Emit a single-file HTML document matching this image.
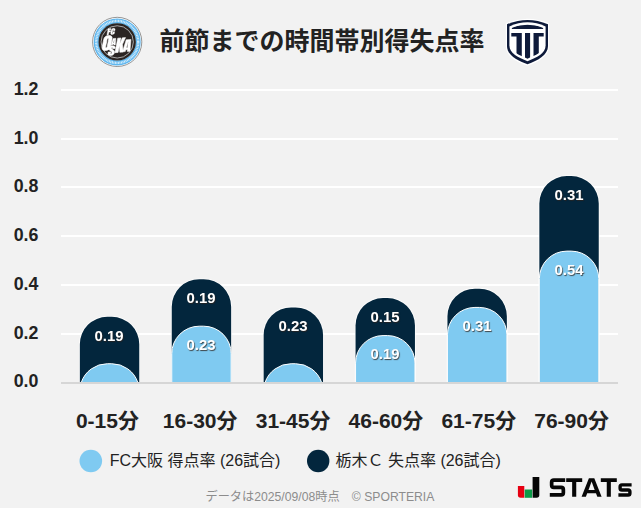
<!DOCTYPE html>
<html lang="ja"><head><meta charset="utf-8"><title>前節までの時間帯別得失点率</title>
<style>
html,body{margin:0;padding:0;background:#f2f2f2;}
body{width:641px;height:508px;position:relative;overflow:hidden;font-family:"Liberation Sans","Noto Sans CJK JP",sans-serif;}
svg.c{position:absolute;left:0;top:0;display:block}
.t{position:absolute;white-space:nowrap;font-family:"Liberation Sans","Noto Sans CJK JP",sans-serif;}
</style></head><body>
<svg class="c" width="641" height="508" viewBox="0 0 641 508">
<rect width="641" height="508" fill="#f2f2f2"/>
<rect x="61" y="333.0" width="557" height="2" fill="#ffffff"/>
<rect x="61" y="284.0" width="557" height="2" fill="#ffffff"/>
<rect x="61" y="235.0" width="557" height="2" fill="#ffffff"/>
<rect x="61" y="186.0" width="557" height="2" fill="#ffffff"/>
<rect x="61" y="138.0" width="557" height="2" fill="#ffffff"/>
<rect x="61" y="89.0" width="557" height="2" fill="#ffffff"/>
<path d="M79.85 382.50V344.31A27.50 27.50 0 0 1 107.35 316.81H111.75A27.50 27.50 0 0 1 139.25 344.31V382.50" fill="none" stroke="#ffffff" stroke-opacity="0.8" stroke-width="1.6"/>
<path d="M79.85 382.50V344.31A27.50 27.50 0 0 1 107.35 316.81H111.75A27.50 27.50 0 0 1 139.25 344.31V382.50Z" fill="#03263d"/>
<path d="M81.27 382.50A27.50 27.50 0 0 1 107.35 363.73H111.75A27.50 27.50 0 0 1 137.83 382.50Z" fill="#7fcaf1"/>
<path d="M81.27 382.50A27.50 27.50 0 0 1 107.35 363.73H111.75A27.50 27.50 0 0 1 137.83 382.50" fill="none" stroke="#ffffff" stroke-width="1"/>
<path d="M171.75 382.50V306.77A27.50 27.50 0 0 1 199.25 279.27H203.65A27.50 27.50 0 0 1 231.15 306.77V382.50" fill="none" stroke="#ffffff" stroke-opacity="0.8" stroke-width="1.6"/>
<path d="M171.75 382.50V306.77A27.50 27.50 0 0 1 199.25 279.27H203.65A27.50 27.50 0 0 1 231.15 306.77V382.50Z" fill="#03263d"/>
<path d="M171.75 382.50V353.69A27.50 27.50 0 0 1 199.25 326.19H203.65A27.50 27.50 0 0 1 231.15 353.69V382.50Z" fill="#7fcaf1"/>
<path d="M171.75 382.50V353.69A27.50 27.50 0 0 1 199.25 326.19H203.65A27.50 27.50 0 0 1 231.15 353.69V382.50" fill="none" stroke="#ffffff" stroke-width="1"/>
<path d="M263.65 382.50V334.92A27.50 27.50 0 0 1 291.15 307.42H295.55A27.50 27.50 0 0 1 323.05 334.92V382.50" fill="none" stroke="#ffffff" stroke-opacity="0.8" stroke-width="1.6"/>
<path d="M263.65 382.50V334.92A27.50 27.50 0 0 1 291.15 307.42H295.55A27.50 27.50 0 0 1 323.05 334.92V382.50Z" fill="#03263d"/>
<path d="M265.07 382.50A27.50 27.50 0 0 1 291.15 363.73H295.55A27.50 27.50 0 0 1 321.63 382.50Z" fill="#7fcaf1"/>
<path d="M265.07 382.50A27.50 27.50 0 0 1 291.15 363.73H295.55A27.50 27.50 0 0 1 321.63 382.50" fill="none" stroke="#ffffff" stroke-width="1"/>
<path d="M355.55 382.50V325.54A27.50 27.50 0 0 1 383.05 298.04H387.45A27.50 27.50 0 0 1 414.95 325.54V382.50" fill="none" stroke="#ffffff" stroke-opacity="0.8" stroke-width="1.6"/>
<path d="M355.55 382.50V325.54A27.50 27.50 0 0 1 383.05 298.04H387.45A27.50 27.50 0 0 1 414.95 325.54V382.50Z" fill="#03263d"/>
<path d="M355.55 382.50V363.08A27.50 27.50 0 0 1 383.05 335.58H387.45A27.50 27.50 0 0 1 414.95 363.08V382.50Z" fill="#7fcaf1"/>
<path d="M355.55 382.50V363.08A27.50 27.50 0 0 1 383.05 335.58H387.45A27.50 27.50 0 0 1 414.95 363.08V382.50" fill="none" stroke="#ffffff" stroke-width="1"/>
<path d="M447.45 382.50V316.15A27.50 27.50 0 0 1 474.95 288.65H479.35A27.50 27.50 0 0 1 506.85 316.15V382.50" fill="none" stroke="#ffffff" stroke-opacity="0.8" stroke-width="1.6"/>
<path d="M447.45 382.50V316.15A27.50 27.50 0 0 1 474.95 288.65H479.35A27.50 27.50 0 0 1 506.85 316.15V382.50Z" fill="#03263d"/>
<path d="M447.45 382.50V334.92A27.50 27.50 0 0 1 474.95 307.42H479.35A27.50 27.50 0 0 1 506.85 334.92V382.50Z" fill="#7fcaf1"/>
<path d="M447.45 382.50V334.92A27.50 27.50 0 0 1 474.95 307.42H479.35A27.50 27.50 0 0 1 506.85 334.92V382.50" fill="none" stroke="#ffffff" stroke-width="1"/>
<path d="M539.35 382.50V203.54A27.50 27.50 0 0 1 566.85 176.04H571.25A27.50 27.50 0 0 1 598.75 203.54V382.50" fill="none" stroke="#ffffff" stroke-opacity="0.8" stroke-width="1.6"/>
<path d="M539.35 382.50V203.54A27.50 27.50 0 0 1 566.85 176.04H571.25A27.50 27.50 0 0 1 598.75 203.54V382.50Z" fill="#03263d"/>
<path d="M539.35 382.50V278.62A27.50 27.50 0 0 1 566.85 251.12H571.25A27.50 27.50 0 0 1 598.75 278.62V382.50Z" fill="#7fcaf1"/>
<path d="M539.35 382.50V278.62A27.50 27.50 0 0 1 566.85 251.12H571.25A27.50 27.50 0 0 1 598.75 278.62V382.50" fill="none" stroke="#ffffff" stroke-width="1"/>
<rect x="61" y="382" width="557" height="2" fill="#d6d6d6"/>
<circle cx="90.8" cy="461" r="11.3" fill="#7fcaf1"/>
<circle cx="318.2" cy="461" r="11.2" fill="#03263d"/>
<g id="osaka">
<circle cx="117.2" cy="41.9" r="24.6" fill="#ffffff" stroke="#7a7a7a" stroke-width="0.8"/>
<circle cx="117.2" cy="41.9" r="21.0" fill="none" stroke="#5fb7ef" stroke-width="5.0"/>
<circle cx="117.2" cy="41.9" r="18.7" fill="#2b2523"/>
<circle cx="117.2" cy="41.9" r="16.15" fill="none" stroke="#c9c9c9" stroke-width="0.8"/>
<circle cx="117.2" cy="41.9" r="21.0" fill="none" stroke="#ffffff" stroke-opacity="0.72" stroke-width="2.4" stroke-dasharray="1.0 0.55"/>
<path transform="translate(106.6 34.9) rotate(-4) skewX(-15)" d="M0.33 0V-6.02H3.34V-4.84H1.85V-3.89H3.26V-2.73H1.85V0ZM5.68 0.05Q4.86 0.05 4.36 -0.35Q3.86 -0.76 3.86 -1.49V-4.27Q3.86 -5.14 4.3 -5.61Q4.73 -6.07 5.71 -6.07Q6.24 -6.07 6.66 -5.91Q7.08 -5.76 7.32 -5.44Q7.56 -5.13 7.56 -4.66V-3.62H6.06V-4.5Q6.06 -4.77 5.97 -4.87Q5.89 -4.96 5.71 -4.96Q5.5 -4.96 5.43 -4.84Q5.36 -4.72 5.36 -4.52V-1.51Q5.36 -1.26 5.45 -1.16Q5.54 -1.05 5.71 -1.05Q5.9 -1.05 5.98 -1.18Q6.06 -1.31 6.06 -1.51V-2.59H7.57V-1.45Q7.57 -0.66 7.07 -0.3Q6.57 0.05 5.68 0.05Z" fill="#ffffff" stroke="#ffffff" stroke-width="0.35" stroke-linejoin="round"/>
<path transform="translate(100.9 50.7) rotate(-4) skewX(-15)" d="M4.82 0.13Q2.78 0.13 1.7 -0.91Q0.62 -1.96 0.62 -3.94V-10.8Q0.62 -12.65 1.69 -13.61Q2.76 -14.57 4.82 -14.57Q6.88 -14.57 7.95 -13.61Q9.02 -12.65 9.02 -10.8V-3.94Q9.02 -1.96 7.94 -0.91Q6.86 0.13 4.82 0.13ZM4.85 -2.53Q5.62 -2.53 5.62 -3.8V-10.84Q5.62 -11.91 4.87 -11.91Q4.02 -11.91 4.02 -10.82V-3.78Q4.02 -3.11 4.21 -2.82Q4.4 -2.53 4.85 -2.53Z" fill="#ffffff" stroke="#ffffff" stroke-width="0.65" stroke-linejoin="round"/>
<path transform="translate(107.2 55.7) rotate(-4) skewX(-15)" d="M3.7 0.09Q1.9 0.09 1.11 -0.55Q0.31 -1.19 0.31 -2.59V-3.5H2.91V-2.33Q2.91 -2.01 3.04 -1.82Q3.18 -1.64 3.52 -1.64Q3.88 -1.64 4.02 -1.79Q4.16 -1.94 4.16 -2.28Q4.16 -2.71 4.04 -3Q3.92 -3.29 3.62 -3.55Q3.33 -3.82 2.81 -4.17L1.63 -4.97Q0.31 -5.85 0.31 -7Q0.31 -8.2 1.09 -8.82Q1.87 -9.45 3.35 -9.45Q5.15 -9.45 5.91 -8.77Q6.66 -8.08 6.66 -6.68H3.99V-7.32Q3.99 -7.52 3.84 -7.62Q3.69 -7.73 3.43 -7.73Q3.11 -7.73 2.97 -7.6Q2.82 -7.48 2.82 -7.28Q2.82 -7.08 2.97 -6.86Q3.12 -6.63 3.56 -6.33L5.07 -5.29Q5.53 -4.98 5.91 -4.64Q6.29 -4.3 6.52 -3.84Q6.75 -3.38 6.75 -2.73Q6.75 -1.41 6.07 -0.66Q5.39 0.09 3.7 0.09Z" fill="#ffffff" stroke="#ffffff" stroke-width="0.5" stroke-linejoin="round"/>
<path transform="translate(110.9 45.2) rotate(-4) skewX(-15)" d="M0.14 0 0.93 -6.53H3.7L4.47 0H2.93L2.81 -1.05H1.83L1.73 0ZM1.94 -2.1H2.69L2.33 -5.42H2.25Z" fill="#ffffff" stroke="#ffffff" stroke-width="0.35" stroke-linejoin="round"/>
<path transform="translate(114.2 52.7) rotate(-4) skewX(-15)" d="M0.71 0V-14.27H3.87V-8.55L5.36 -14.27H8.57L6.78 -7.73L8.94 0H5.63L3.89 -6.91V0Z" fill="#ffffff" stroke="#ffffff" stroke-width="0.5" stroke-linejoin="round"/>
<path transform="translate(122.3 51.8) rotate(-4) skewX(-15)" d="M0.24 0 1.59 -11.69H6.35L7.68 0H5.03L4.83 -1.89H3.14L2.96 0ZM3.34 -3.75H4.61L4 -9.7H3.87Z" fill="#ffffff" stroke="#ffffff" stroke-width="0.5" stroke-linejoin="round"/>
</g>
<g id="shield">
<path d="M505.80 23.22Q527.50 14.18 549.20 23.22V46.36C549.20 55.72 538.66 62.06 527.50 65.86C516.34 62.06 505.80 55.72 505.80 46.36Z" fill="#ffffff"/>
<path d="M507.00 24.30Q527.50 15.50 548.00 24.30V46.00C548.00 55.00 538.00 60.50 527.50 64.30C517.00 60.50 507.00 55.00 507.00 46.00Z" fill="#0e1a3a"/>
<path d="M509.40 26.46Q527.50 18.14 545.60 26.46V45.28C545.60 53.56 536.68 57.38 527.50 61.18C518.32 57.38 509.40 53.56 509.40 45.28Z" fill="#ffffff"/>
<clipPath id="shc"><path d="M511.30 28.17Q527.50 20.23 543.70 28.17V44.71C543.70 52.42 535.63 54.91 527.50 58.71C519.37 54.91 511.30 52.42 511.30 44.71Z"/></clipPath>
<g clip-path="url(#shc)" fill="#0e1a3a">
<path d="M511.8 28.9V27.3Q527.5 22 543.2 27.3V28.9Z"/>
<path d="M511 32.9H521.8V70H516.5V36.6H511Z"/>
<path d="M525 32.9H530.1V70H525Z"/>
<path d="M544 32.9H533.5V70H538.8V36.6H544Z"/>
</g></g>
<g id="stats">
<path d="M517.9 485.9H524.3V497.8H520.6Q517.9 497.8 517.9 495.1Z" fill="#e60012"/>
<path d="M524.7 489.5H532.1V497.8H524.7Z" fill="#0b9a47"/>
<path d="M532.6 476.9H539.3V495.1Q539.3 497.8 536.6 497.8H532.6Z" fill="#060606"/>
<path d="M565.20 480.05H553.85Q551.65 480.05 551.65 482.25V485.25Q551.65 487.45 553.85 487.45H561.15Q563.35 487.45 563.35 489.65V492.65Q563.35 494.85 561.15 494.85H549.80" fill="none" stroke="#060606" stroke-width="3.7"/>
<path d="M566.20 478.20H582.20V481.90H576.25V496.70H572.15V481.90H566.20Z" fill="#060606"/>
<path fill-rule="evenodd" d="M581.6 496.7L588.9 478.2H594.3L601.6 496.7H597.3L596 493.2H587.2L585.9 496.7ZM588.5 489.9H594.7L591.6 481.6Z" fill="#060606"/>
<path d="M600.80 478.20H616.80V481.90H610.85V496.70H606.75V481.90H600.80Z" fill="#060606"/>
<path d="M631.60 484.90H621.90Q620.10 484.90 620.10 486.70V488.15Q620.10 489.95 621.90 489.95H628.10Q629.90 489.95 629.90 491.75V493.20Q629.90 495.00 628.10 495.00H618.40" fill="none" stroke="#060606" stroke-width="3.4"/>
</g>
</svg>
<div class="t" style="left:159.6px;top:26.0px;width:325.0px;height:30.0px;font-size:25px;font-weight:700;text-align:left;color:#222222;line-height:30.0px">前節までの時間帯別得失点率</div>
<div class="t" style="left:84.15px;top:325.61px;width:50.00px;height:20.00px;font-size:14.9px;font-weight:700;text-align:center;color:#ffffff;line-height:20.00px;text-shadow:0.8px 0.8px 1px rgba(45,35,30,0.8);will-change:transform;">0.19</div>
<div class="t" style="left:176.05px;top:288.07px;width:50.00px;height:20.00px;font-size:14.9px;font-weight:700;text-align:center;color:#ffffff;line-height:20.00px;text-shadow:0.8px 0.8px 1px rgba(45,35,30,0.8);will-change:transform;">0.19</div>
<div class="t" style="left:176.05px;top:334.99px;width:50.00px;height:20.00px;font-size:14.9px;font-weight:700;text-align:center;color:#ffffff;line-height:20.00px;text-shadow:0.8px 0.8px 1px rgba(45,35,30,0.8);will-change:transform;">0.23</div>
<div class="t" style="left:267.95px;top:316.22px;width:50.00px;height:20.00px;font-size:14.9px;font-weight:700;text-align:center;color:#ffffff;line-height:20.00px;text-shadow:0.8px 0.8px 1px rgba(45,35,30,0.8);will-change:transform;">0.23</div>
<div class="t" style="left:359.85px;top:306.84px;width:50.00px;height:20.00px;font-size:14.9px;font-weight:700;text-align:center;color:#ffffff;line-height:20.00px;text-shadow:0.8px 0.8px 1px rgba(45,35,30,0.8);will-change:transform;">0.15</div>
<div class="t" style="left:359.85px;top:344.38px;width:50.00px;height:20.00px;font-size:14.9px;font-weight:700;text-align:center;color:#ffffff;line-height:20.00px;text-shadow:0.8px 0.8px 1px rgba(45,35,30,0.8);will-change:transform;">0.19</div>
<div class="t" style="left:451.75px;top:316.22px;width:50.00px;height:20.00px;font-size:14.9px;font-weight:700;text-align:center;color:#ffffff;line-height:20.00px;text-shadow:0.8px 0.8px 1px rgba(45,35,30,0.8);will-change:transform;">0.31</div>
<div class="t" style="left:543.65px;top:184.84px;width:50.00px;height:20.00px;font-size:14.9px;font-weight:700;text-align:center;color:#ffffff;line-height:20.00px;text-shadow:0.8px 0.8px 1px rgba(45,35,30,0.8);will-change:transform;">0.31</div>
<div class="t" style="left:543.65px;top:259.92px;width:50.00px;height:20.00px;font-size:14.9px;font-weight:700;text-align:center;color:#ffffff;line-height:20.00px;text-shadow:0.8px 0.8px 1px rgba(45,35,30,0.8);will-change:transform;">0.54</div>
<div class="t" style="left:8.00px;top:370.60px;width:36.00px;height:20.00px;font-size:17.8px;font-weight:700;text-align:left;color:#222222;line-height:20.00px;padding-left:5.7px;">0.0</div>
<div class="t" style="left:8.00px;top:323.10px;width:36.00px;height:20.00px;font-size:17.8px;font-weight:700;text-align:left;color:#222222;line-height:20.00px;padding-left:5.7px;">0.2</div>
<div class="t" style="left:8.00px;top:274.10px;width:36.00px;height:20.00px;font-size:17.8px;font-weight:700;text-align:left;color:#222222;line-height:20.00px;padding-left:5.7px;">0.4</div>
<div class="t" style="left:8.00px;top:225.10px;width:36.00px;height:20.00px;font-size:17.8px;font-weight:700;text-align:left;color:#222222;line-height:20.00px;padding-left:5.7px;">0.6</div>
<div class="t" style="left:8.00px;top:176.10px;width:36.00px;height:20.00px;font-size:17.8px;font-weight:700;text-align:left;color:#222222;line-height:20.00px;padding-left:5.7px;">0.8</div>
<div class="t" style="left:8.00px;top:128.10px;width:36.00px;height:20.00px;font-size:17.8px;font-weight:700;text-align:left;color:#222222;line-height:20.00px;padding-left:5.7px;">1.0</div>
<div class="t" style="left:8.00px;top:79.10px;width:36.00px;height:20.00px;font-size:17.8px;font-weight:700;text-align:left;color:#222222;line-height:20.00px;padding-left:5.7px;">1.2</div>
<div class="t" style="left:67.4px;top:408.0px;width:80.0px;height:26.0px;font-size:21px;font-weight:700;text-align:center;color:#222222;line-height:26.0px">0-15分</div>
<div class="t" style="left:160.2px;top:408.0px;width:80.0px;height:26.0px;font-size:21px;font-weight:700;text-align:center;color:#222222;line-height:26.0px">16-30分</div>
<div class="t" style="left:253.1px;top:408.0px;width:80.0px;height:26.0px;font-size:21px;font-weight:700;text-align:center;color:#222222;line-height:26.0px">31-45分</div>
<div class="t" style="left:345.9px;top:408.0px;width:80.0px;height:26.0px;font-size:21px;font-weight:700;text-align:center;color:#222222;line-height:26.0px">46-60分</div>
<div class="t" style="left:438.8px;top:408.0px;width:80.0px;height:26.0px;font-size:21px;font-weight:700;text-align:center;color:#222222;line-height:26.0px">61-75分</div>
<div class="t" style="left:531.6px;top:408.0px;width:80.0px;height:26.0px;font-size:21px;font-weight:700;text-align:center;color:#222222;line-height:26.0px">76-90分</div>
<div class="t" style="left:109.7px;top:450.0px;width:170.0px;height:22.0px;font-size:16px;font-weight:400;text-align:left;color:#222222;line-height:22.0px">FC大阪 得点率 (26試合)</div>
<div class="t" style="left:335.5px;top:450.0px;width:170.0px;height:22.0px;font-size:16px;font-weight:400;text-align:left;color:#222222;line-height:22.0px">栃木Ｃ 失点率 (26試合)</div>
<div class="t" style="left:205.5px;top:488.0px;width:230.0px;height:18.0px;font-size:12.2px;font-weight:400;text-align:left;color:#8c8c8c;line-height:18.0px">データは2025/09/08時点　© SPORTERIA</div>
</body></html>
